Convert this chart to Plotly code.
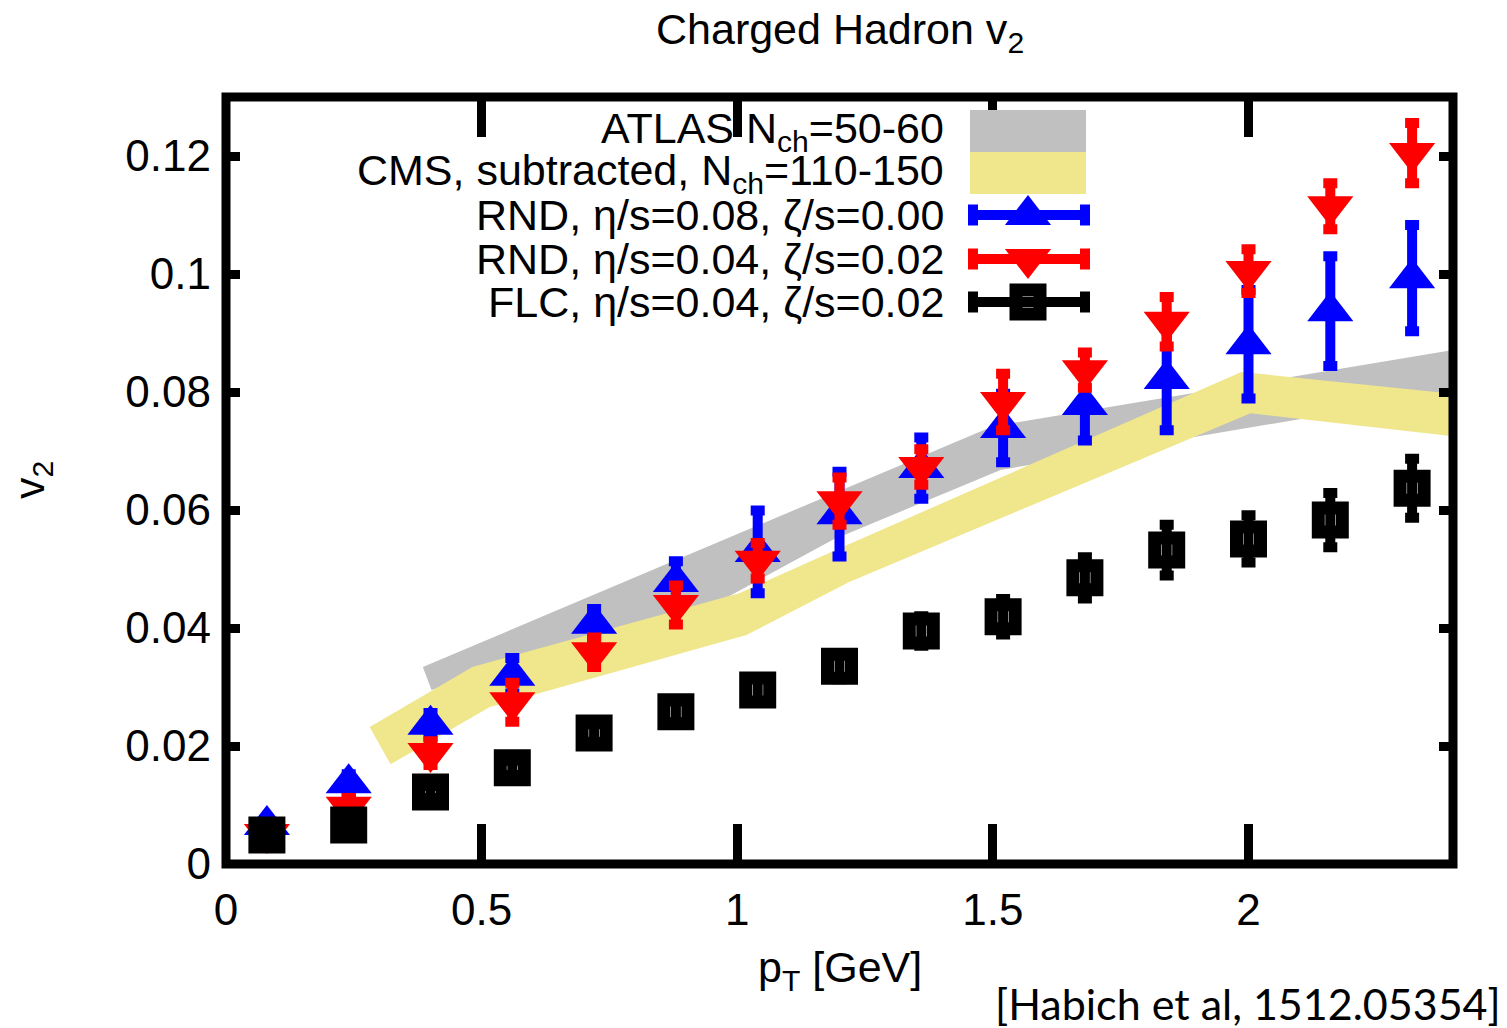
import plotly.graph_objects as go

# ---------------- data ----------------
pt = [0.08, 0.24, 0.40, 0.56, 0.72, 0.88, 1.04, 1.20, 1.36, 1.52, 1.68, 1.84, 2.00, 2.16, 2.32]

v2_rnd_008 = [0.0066, 0.0137, 0.0236, 0.0319, 0.0407, 0.0478, 0.0529, 0.0593, 0.0671, 0.0739,
              0.0778, 0.0822, 0.0881, 0.0937, 0.0993]
err_rnd_008 = [0.0010, 0.0015, 0.0020, 0.0030, 0.0025, 0.0035, 0.0070, 0.0072, 0.0052, 0.0058,
               0.0060, 0.0087, 0.0092, 0.0093, 0.0090]

v2_rnd_004 = [0.0051, 0.0097, 0.0188, 0.0274, 0.0359, 0.0439, 0.0514, 0.0615, 0.0673, 0.0783,
              0.0837, 0.0919, 0.1005, 0.1115, 0.1205]
err_rnd_004 = [0.0010, 0.0015, 0.0020, 0.0033, 0.0025, 0.0033, 0.0030, 0.0040, 0.0030, 0.0048,
               0.0030, 0.0042, 0.0037, 0.0039, 0.0051]

v2_flc = [0.0049, 0.0066, 0.0122, 0.0163, 0.0222, 0.0258, 0.0295, 0.0335, 0.0395, 0.0419,
          0.0485, 0.0532, 0.0551, 0.0583, 0.0637]
err_flc = [0.0005, 0.0008, 0.0010, 0.0012, 0.0015, 0.0018, 0.0020, 0.0022, 0.0025, 0.0030,
           0.0035, 0.0043, 0.0040, 0.0046, 0.0050]

atlas_up_x = [0.385, 1.50, 2.40]
atlas_up_y = [0.0334, 0.0742, 0.0871]
atlas_lo_x = [0.402, 0.984, 1.186, 1.515, 2.40]
atlas_lo_y = [0.0295, 0.0454, 0.0549, 0.0668, 0.0798]

cms_up_x = [0.281, 0.482, 1.004, 1.205, 1.986, 2.40]
cms_up_y = [0.0232, 0.0334, 0.0459, 0.0537, 0.0834, 0.0797]
cms_lo_x = [0.322, 0.516, 1.018, 1.219, 2.004, 2.40]
cms_lo_y = [0.0169, 0.0266, 0.0388, 0.0478, 0.0764, 0.0725]

x_tickvals = [0, 0.5, 1, 1.5, 2]
x_ticktext = ["0", "0.5", "1", "1.5", "2"]
y_tickvals = [0, 0.02, 0.04, 0.06, 0.08, 0.10, 0.12]
y_ticktext = ["0", "0.02", "0.04", "0.06", "0.08", "0.1", "0.12"]

legend_labels = ["ATLAS N<sub>ch</sub>=50-60",
                 "CMS, subtracted, N<sub>ch</sub>=110-150",
                 "RND, η/s=0.08, ζ/s=0.00",
                 "RND, η/s=0.04, ζ/s=0.02",
                 "FLC, η/s=0.04, ζ/s=0.02"]

# ---------------- style ----------------
W, H = 1507, 1028
PL, PR, PT, PB = 226, 1453, 97, 864
FONT = "Liberation Sans, Arial, Helvetica, sans-serif"
FS = 43
TFS = 44
GREY = "#c0c0c0"
KHAKI = "#f0e68c"
BLUE = "#0000ff"
RED = "#ff0000"
BLACK = "#000000"


def fx(px):
    return (px - PL) / (PR - PL)


def fy(py):
    return (PB - py) / (PB - PT)


fig = go.Figure()

# bands
fig.add_trace(go.Scatter(x=atlas_up_x + atlas_lo_x[::-1], y=atlas_up_y + atlas_lo_y[::-1],
                         fill="toself", fillcolor=GREY, mode="lines", line=dict(width=0, color=GREY),
                         hoverinfo="skip", showlegend=False))
fig.add_trace(go.Scatter(x=cms_up_x + cms_lo_x[::-1], y=cms_up_y + cms_lo_y[::-1],
                         fill="toself", fillcolor=KHAKI, mode="lines", line=dict(width=0, color=KHAKI),
                         hoverinfo="skip", showlegend=False))

eb = dict(type="data", visible=True, thickness=10, width=7)

fig.add_trace(go.Scatter(x=pt, y=v2_rnd_008, mode="markers",
                         marker=dict(symbol="triangle-up", size=40, color=BLUE, line=dict(width=0)),
                         error_y=dict(array=err_rnd_008, color=BLUE, **eb), showlegend=False))
fig.add_trace(go.Scatter(x=pt, y=v2_rnd_004, mode="markers",
                         marker=dict(symbol="triangle-down", size=40, color=RED, line=dict(width=0)),
                         error_y=dict(array=err_rnd_004, color=RED, **eb), showlegend=False))
fig.add_trace(go.Scatter(x=pt, y=v2_flc, mode="markers",
                         marker=dict(symbol="square-open", size=24, color=BLACK,
                                     line=dict(width=13, color=BLACK)),
                         error_y=dict(array=err_flc, color=BLACK, **eb), showlegend=False))

# ---------------- custom key (gnuplot style, samples on the right) ----------------
key_x0, key_x1, key_xc = 968, 1090, 1028
key_text_right = 946
row_y = [128, 170, 215, 259, 302]
shapes = []
shapes.append(dict(type="rect", xref="paper", yref="paper", x0=fx(970), x1=fx(1086),
                   y0=fy(152), y1=fy(110), fillcolor=GREY, line=dict(width=0), layer="above"))
shapes.append(dict(type="rect", xref="paper", yref="paper", x0=fx(970), x1=fx(1086),
                   y0=fy(194), y1=fy(152), fillcolor=KHAKI, line=dict(width=0), layer="above"))

key_styles = [(BLUE, "triangle-up", 40, 0), (RED, "triangle-down", 40, 0), (BLACK, "square-open", 24, 13)]
for (col, sym, sz, lw), ry in zip(key_styles, row_y[2:]):
    fig.add_trace(go.Scatter(x=[fx(key_x0), fx(key_x1)], y=[fy(ry), fy(ry)], mode="lines",
                             line=dict(color=col, width=10), xaxis="x2", yaxis="y2",
                             hoverinfo="skip", showlegend=False))
    fig.add_trace(go.Scatter(x=[fx(key_x0 + 5), fx(key_x1 - 5)], y=[fy(ry), fy(ry)], mode="markers",
                             marker=dict(symbol="line-ns", size=15, line=dict(color=col, width=10)),
                             xaxis="x2", yaxis="y2", hoverinfo="skip", showlegend=False))
    fig.add_trace(go.Scatter(x=[fx(key_xc)], y=[fy(ry)], mode="markers",
                             marker=dict(symbol=sym, size=sz, color=col,
                                         line=dict(width=lw, color=col)),
                             xaxis="x2", yaxis="y2", hoverinfo="skip", showlegend=False))

annotations = []
for lab, ry in zip(legend_labels, row_y):
    off = 3 if "<sub>" in lab else 0
    annotations.append(dict(text=lab, xref="paper", yref="paper", x=fx(key_text_right),
                            y=fy(ry + off), xanchor="right", yanchor="middle", showarrow=False,
                            font=dict(family=FONT, size=FS, color=BLACK)))

# frame
shapes.append(dict(type="rect", xref="paper", yref="paper", x0=0, x1=1, y0=0, y1=1,
                   line=dict(color=BLACK, width=9), layer="above"))

# titles
annotations.append(dict(text="Charged Hadron v<sub>2</sub>", xref="paper", yref="paper",
                        x=fx(840), y=fy(32), xanchor="center", yanchor="middle", showarrow=False,
                        font=dict(family=FONT, size=FS, color=BLACK)))
annotations.append(dict(text="p<sub>T</sub> [GeV]", xref="paper", yref="paper",
                        x=fx(840), y=fy(970), xanchor="center", yanchor="middle", showarrow=False,
                        font=dict(family=FONT, size=FS, color=BLACK)))
annotations.append(dict(text="v<sub>2</sub>", xref="paper", yref="paper", textangle=-90,
                        x=fx(32), y=fy(480), xanchor="center", yanchor="middle", showarrow=False,
                        font=dict(family=FONT, size=FS, color=BLACK)))
annotations.append(dict(text="[Habich et al, 1512.05354]", xref="paper", yref="paper",
                        x=fx(1503), y=fy(1004), xanchor="right", yanchor="middle", showarrow=False,
                        font=dict(family="Lato, Carlito, Open Sans, sans-serif", size=43, color=BLACK)))

axis_common = dict(showline=False, zeroline=False, showgrid=False, ticks="inside",
                   mirror="ticks", tickcolor=BLACK, tickwidth=9,
                   tickfont=dict(family=FONT, size=TFS, color=BLACK))

fig.update_layout(
    width=W, height=H, autosize=False,
    paper_bgcolor="white", plot_bgcolor="white",
    margin=dict(l=PL, r=W - PR, t=PT, b=H - PB, pad=0),
    showlegend=False,
    xaxis=dict(range=[0, 2.4], tickvals=x_tickvals, ticktext=x_ticktext, ticklen=40,
               ticklabelstandoff=16, **axis_common),
    yaxis=dict(range=[0, 0.13], tickvals=y_tickvals, ticktext=y_ticktext, ticklen=14,
               ticklabelstandoff=14, **axis_common),
    xaxis2=dict(range=[0, 1], overlaying="x", visible=False, fixedrange=True),
    yaxis2=dict(range=[0, 1], overlaying="y", visible=False, fixedrange=True),
    shapes=shapes,
    annotations=annotations,
)

fig.write_html("out.html", config={"displayModeBar": False},
               post_script="document.body.style.margin='0px';document.body.style.overflow='hidden';")
